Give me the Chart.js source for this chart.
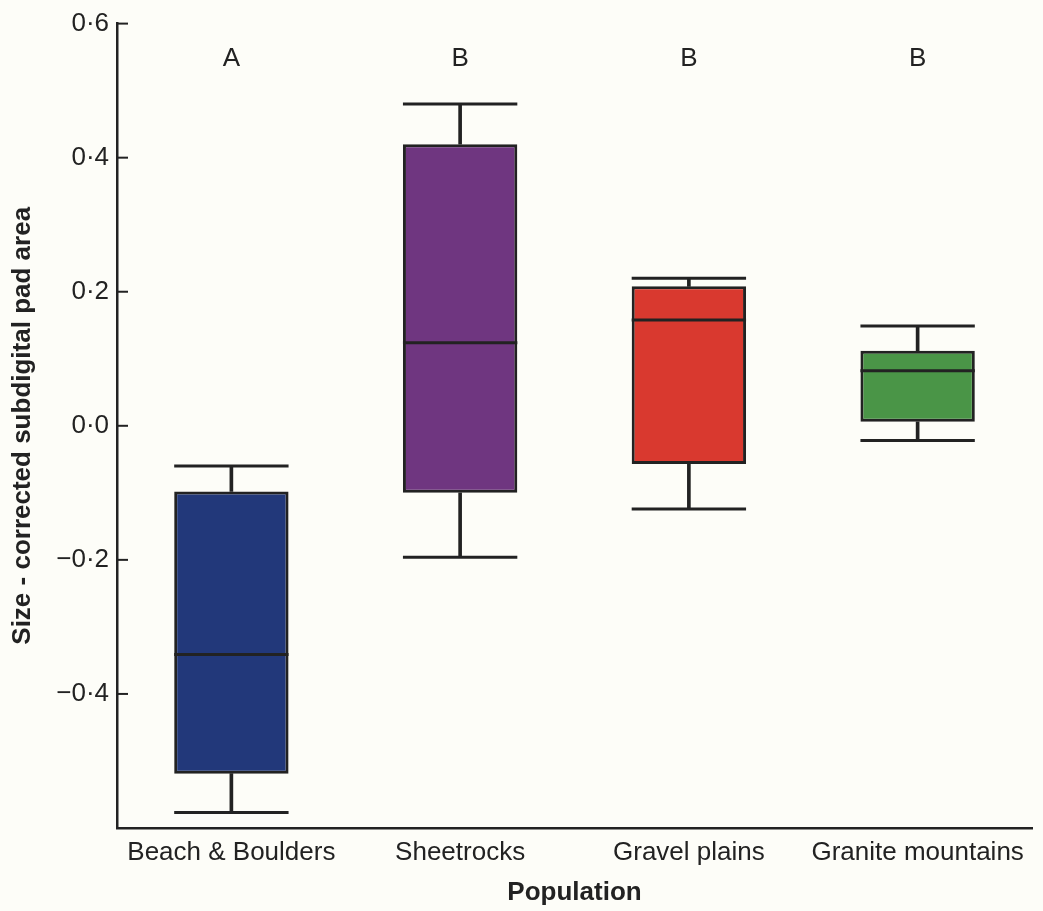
<!DOCTYPE html>
<html>
<head>
<meta charset="utf-8">
<script src="https://cdn.jsdelivr.net/npm/chart.js@4.4.1/dist/chart.umd.min.js"></script>
<style>
  html, body { margin: 0; padding: 0; background: #fdfdf8; }
  #wrap { width: 1043px; height: 911px; }
</style>
</head>
<body>
<div id="wrap"><canvas id="myChart"></canvas></div>
<script>
const populations = ["Beach & Boulders", "Sheetrocks", "Gravel plains", "Granite mountains"];
const whiskerLow = [-0.577, -0.196, -0.124, -0.022];
const quartile1 = [-0.519, -0.100, -0.057, 0.006];
const medians = [-0.341, 0.124, 0.158, 0.082];
const quartile3 = [-0.098, 0.420, 0.208, 0.112];
const whiskerHigh = [-0.060, 0.480, 0.220, 0.149];
const groupLetters = ["A", "B", "B", "B"];
const letterLevel = 0.548;
const yTicks = [-0.4, -0.2, 0, 0.2, 0.4, 0.6];
const boxColors = ["#22387a", "#6f3680", "#d9392f", "#4a9547"];

const ink = "#222222";
const family = "'Liberation Sans', Arial, Helvetica, sans-serif";
Chart.defaults.font.family = family;
Chart.defaults.color = ink;

function fmtTick(v) {
  const s = Math.abs(v).toFixed(1).replace(".", "\u00b7");
  return v < -1e-9 ? "\u2212" + s : s;
}

// half of a box width, so caps and medians span the box
function capRadius(ctx) {
  const x = ctx.chart.scales.x;
  return x ? x.width / populations.length / 4 : 50;
}

// inward tick marks + significance letters
const extras = {
  id: "extras",
  afterDraw(chart) {
    const { ctx } = chart;
    const x = chart.scales.x;
    const y = chart.scales.y;
    ctx.save();
    ctx.strokeStyle = ink;
    ctx.lineWidth = 2;
    yTicks.forEach((v) => {
      const py = y.getPixelForValue(v);
      ctx.beginPath();
      ctx.moveTo(x.left, py);
      ctx.lineTo(x.left + 11, py);
      ctx.stroke();
    });
    ctx.fillStyle = ink;
    ctx.font = "26px " + family;
    ctx.textAlign = "center";
    ctx.textBaseline = "middle";
    groupLetters.forEach((t, i) => {
      ctx.fillText(t, x.getPixelForValue(i), y.getPixelForValue(letterLevel));
    });
    ctx.restore();
  },
};

const ctx = document.getElementById("myChart").getContext("2d");
new Chart(ctx, {
  type: "bar",
  data: {
    labels: populations,
    datasets: [
      {
        type: "bar",
        data: quartile1.map((q, i) => [q, quartile3[i]]),
        backgroundColor: boxColors,
        borderColor: ink,
        borderWidth: 3,
        borderSkipped: false,
        barPercentage: 0.5,
        categoryPercentage: 1,
        grouped: false,
        order: 1,
      },
      {
        type: "bar",
        data: quartile3.map((q, i) => [q, whiskerHigh[i]]),
        backgroundColor: ink,
        barThickness: 3,
        grouped: false,
        order: 2,
      },
      {
        type: "bar",
        data: whiskerLow.map((w, i) => [w, quartile1[i]]),
        backgroundColor: ink,
        barThickness: 3,
        grouped: false,
        order: 2,
      },
      {
        type: "line",
        data: whiskerHigh,
        showLine: false,
        pointStyle: "line",
        pointRadius: capRadius,
        pointBorderColor: ink,
        pointBorderWidth: 3,
        order: 0,
      },
      {
        type: "line",
        data: whiskerLow,
        showLine: false,
        pointStyle: "line",
        pointRadius: capRadius,
        pointBorderColor: ink,
        pointBorderWidth: 3,
        order: 0,
      },
      {
        type: "line",
        data: medians,
        showLine: false,
        pointStyle: "line",
        pointRadius: capRadius,
        pointBorderColor: ink,
        pointBorderWidth: 3,
        order: 0,
      },
    ],
  },
  options: {
    responsive: true,
    maintainAspectRatio: false,
    animation: false,
    events: [],
    layout: { padding: { top: 23, right: 11, left: 0, bottom: 0 } },
    plugins: {
      legend: { display: false },
      tooltip: { enabled: false },
    },
    scales: {
      x: {
        afterFit: (s) => { s.height = 83; },
        grid: { display: false, drawTicks: false },
        border: { display: true, color: ink, width: 2.5 },
        ticks: { padding: 9, color: ink, font: { size: 26 } },
        title: {
          display: true,
          text: "Population",
          color: ink,
          font: { size: 26, weight: "bold" },
          padding: { top: 0, bottom: 3 },
        },
      },
      y: {
        min: -0.6,
        max: 0.6,
        afterBuildTicks: (s) => { s.ticks = yTicks.map((v) => ({ value: v })); },
        afterFit: (s) => { s.width = 117; },
        grid: { display: false, drawTicks: false },
        border: { display: true, color: ink, width: 2.5 },
        ticks: { padding: 8, color: ink, font: { size: 26 }, callback: (v) => fmtTick(v) },
        title: {
          display: true,
          text: "Size - corrected subdigital pad area",
          color: ink,
          font: { size: 26, weight: "bold" },
          padding: { top: 7, bottom: 0 },
        },
      },
    },
  },
  plugins: [extras],
});
</script>
</body>
</html>
